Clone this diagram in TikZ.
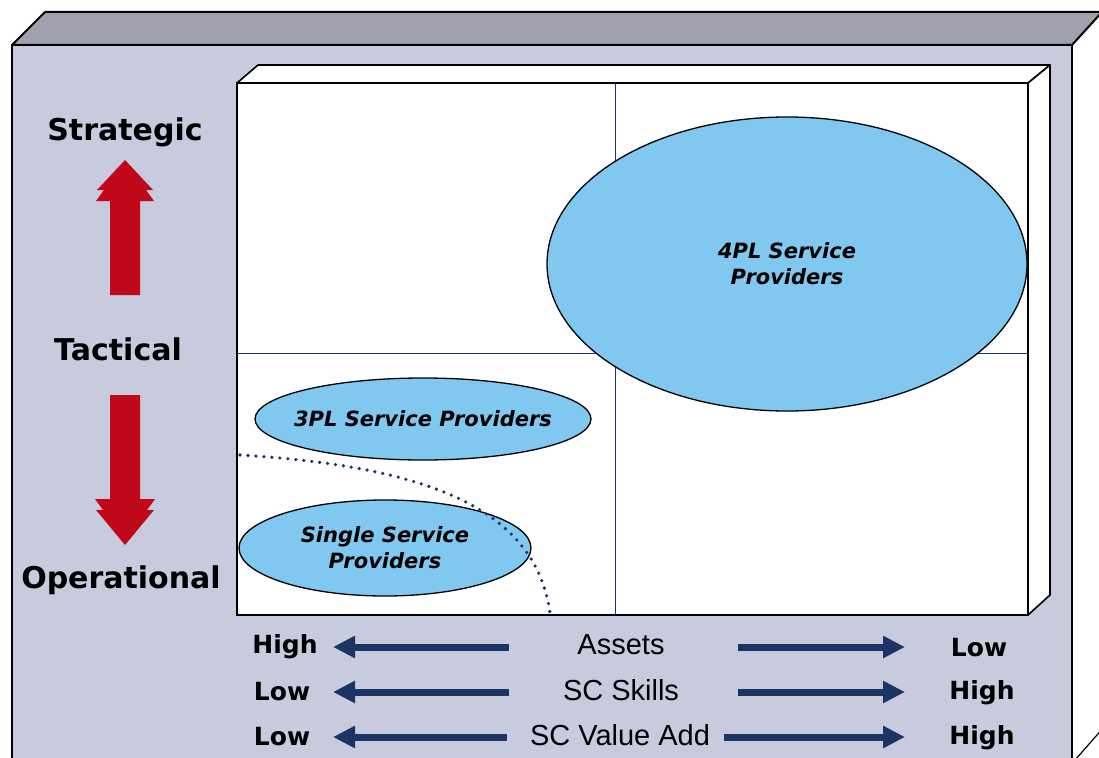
\documentclass[tikz,border=0pt]{standalone}
\usepackage{fontspec}
\setmainfont{DejaVu Sans}
\newfontfamily\midfont{Liberation Sans}
\usetikzlibrary{arrows.meta,shapes.geometric}
\definecolor{frontface}{RGB}{200,202,221}
\definecolor{topface}{RGB}{160,161,172}
\definecolor{bubble}{RGB}{128,200,240}
\definecolor{navy}{RGB}{28,52,100}
\definecolor{redarrow}{RGB}{192,8,26}
\tikzset{
  bubblenode/.style={ellipse, draw=black, line width=1.3, fill=bubble, inner sep=0pt},
  bubbletext/.style={align=center, inner sep=0pt, font=\fontsize{21}{26}\selectfont\bfseries\itshape},
  sidelabel/.style={font=\fontsize{30}{30}\selectfont\bfseries, inner sep=0pt},
  endlabel/.style={font=\fontsize{25}{25}\selectfont\bfseries, inner sep=0pt},
  midlabel/.style={font=\midfont\fontsize{29}{29}\selectfont, inner sep=0pt},
  axisarrow/.style={navy, line width=7, -{Triangle[length=22pt,width=21pt]}},
  quadline/.style={navy, line width=1},
  redarrowfill/.style={fill=redarrow},
}
\begin{document}
\begin{tikzpicture}[x=1pt,y=-1pt]
\useasboundingbox (0,0) rectangle (1099,757);
% outer box: front face
\fill[frontface] (12,45) rectangle (1072,760);
\draw[line width=2] (12,762) -- (12,45) -- (1072,45) -- (1072,762);
% outer box: top face
\filldraw[fill=topface, line width=2, line join=round] (12,45) -- (45,12) -- (1102,12) -- (1072,45) -- cycle;
% outer box: right face bottom edge
\draw[line width=1.2] (1075,760) -- (1104,727);
% inner box
\filldraw[fill=white, line width=1.6, line join=round] (237,83) -- (258,65) -- (1050,65) -- (1028,83) -- cycle;
\filldraw[fill=white, line width=1.6, line join=round] (1028,83) -- (1050,65) -- (1050,595) -- (1028,615) -- cycle;
\filldraw[fill=white, line width=1.6] (237,83) rectangle (1028,615);
% quadrant lines
\draw[quadline] (615,83) -- (615,615);
\draw[quadline] (237,353) -- (1028,353);
% bubbles
\node[bubblenode, minimum width=480pt, minimum height=294pt] (fourpl) at (787,264) {};
\node[bubbletext] (fourpltext) at (fourpl.center) {4PL Service\\Providers};
\node[bubblenode, minimum width=336pt, minimum height=82pt] (threepl) at (423,419) {};
\node[bubbletext] (threepltext) at (threepl.center) {3PL Service Providers};
\node[bubblenode, minimum width=292pt, minimum height=96pt] (single) at (385,548) {};
\node[bubbletext] (singletext) at (single.center) {Single Service\\Providers};
% dotted boundary
\draw[navy, line width=3.6, line cap=round, dash pattern=on 0pt off 8pt]
  (240,455) .. controls (420,466) and (535,505) .. (550,613);
% left labels
\node[sidelabel] (strategic) at (125,132) {Strategic};
\node[sidelabel] (tactical) at (118,349) {Tactical};
\node[sidelabel] (operational) at (121,580) {Operational};
% red arrows
\fill[redarrowfill] (125,160) -- (97,190) -- (104,190) -- (96,201) -- (110,201) -- (110,295)
  -- (140,295) -- (140,201) -- (154,201) -- (146,190) -- (153,190) -- cycle;
\fill[redarrowfill] (125,545) -- (96,510) -- (103,510) -- (95,499) -- (110,499) -- (110,395)
  -- (140,395) -- (140,499) -- (155,499) -- (147,510) -- (154,510) -- cycle;
% bottom rows
\node[endlabel] (l1) at (285,647) {High};
\node[endlabel] (l2) at (282,692) {Low};
\node[endlabel] (l3) at (282,737) {Low};
\node[endlabel] (r1) at (979,648) {Low};
\node[endlabel] (r2) at (982,693) {High};
\node[endlabel] (r3) at (982,738) {High};
\node[midlabel] (m1) at (621,645) {Assets};
\node[midlabel] (m2) at (621,690) {SC Skills};
\node[midlabel] (m3) at (620,735) {SC Value Add};
\coordinate (a1l) at (509,647); \coordinate (a1lt) at (333,647);
\coordinate (a1r) at (738,647); \coordinate (a1rt) at (905,647);
\coordinate (a2l) at (509,692); \coordinate (a2lt) at (333,692);
\coordinate (a2r) at (738,692); \coordinate (a2rt) at (905,692);
\coordinate (a3l) at (507,737); \coordinate (a3lt) at (333,737);
\coordinate (a3r) at (724,737); \coordinate (a3rt) at (905,737);
\draw[axisarrow] (a1l) -- (a1lt);
\draw[axisarrow] (a1r) -- (a1rt);
\draw[axisarrow] (a2l) -- (a2lt);
\draw[axisarrow] (a2r) -- (a2rt);
\draw[axisarrow] (a3l) -- (a3lt);
\draw[axisarrow] (a3r) -- (a3rt);
\end{tikzpicture}
\end{document}
